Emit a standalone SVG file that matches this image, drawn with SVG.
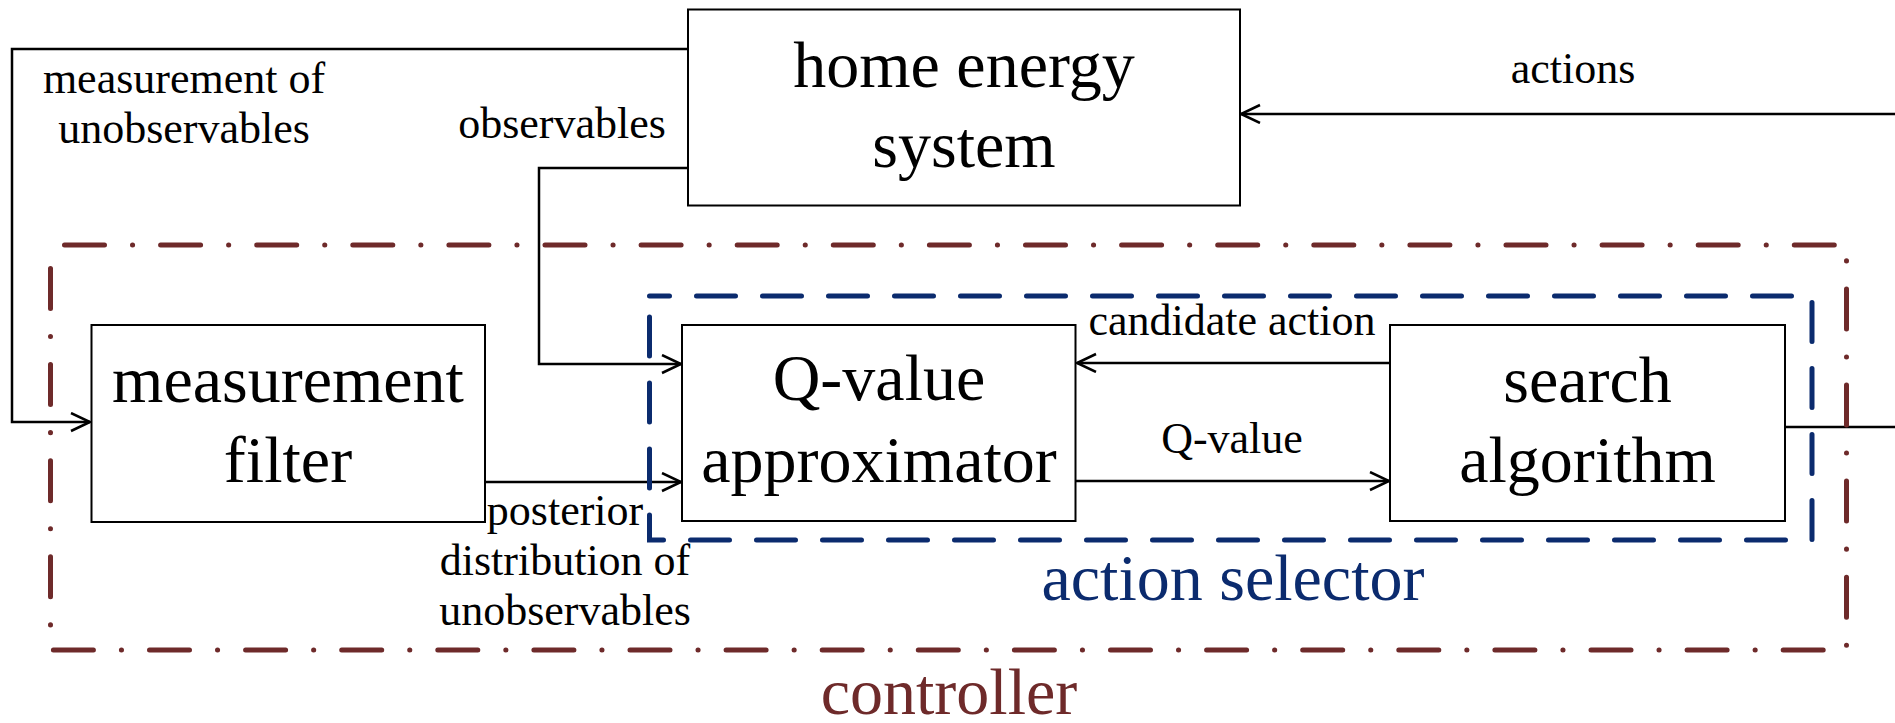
<svg xmlns="http://www.w3.org/2000/svg" width="1895" height="723" viewBox="0 0 1895 723">
<style>
.box{fill:#fff;stroke:#000;stroke-width:2}
.big{font-family:"Liberation Serif","Times New Roman",serif;font-size:66px;fill:#000;text-anchor:middle}
.lbl{font-family:"Liberation Serif","Times New Roman",serif;font-size:44px;fill:#000;text-anchor:middle}
.conn{fill:none;stroke:#000;stroke-width:2.5}
.ctrl{fill:none;stroke:#6e2a2a;stroke-width:5;stroke-linecap:round;stroke-dasharray:40 28 0.1 28}
.sel{fill:none;stroke:#0b2b6e;stroke-width:5;stroke-linecap:round;stroke-dasharray:39 27}
</style>
<defs>
<marker id="arr" markerWidth="24" markerHeight="24" refX="20" refY="10" orient="auto" markerUnits="userSpaceOnUse">
<path d="M1 1 L20 10 L1 19" fill="none" stroke="#000" stroke-width="2.5"/>
</marker>
</defs>
<rect width="1895" height="723" fill="#fff"/>
<g id="connectors">
<path class="conn" d="M688 49 H12 V422 H90" marker-end="url(#arr)"/>
<path class="conn" d="M688 168 H539 V364 H681" marker-end="url(#arr)"/>
<path class="conn" d="M485 482 H681" marker-end="url(#arr)"/>
<path class="conn" d="M1076 481 H1389" marker-end="url(#arr)"/>
<path class="conn" d="M1390 363 H1077" marker-end="url(#arr)"/>
<path class="conn" d="M1785 427 H1895"/>
<path class="conn" d="M1895 114 H1241" marker-end="url(#arr)"/>
<text class="lbl" x="184" y="93">measurement of</text>
<text class="lbl" x="184" y="143">unobservables</text>
<text class="lbl" x="562" y="138">observables</text>
<text class="lbl" x="1573" y="83">actions</text>
<text class="lbl" x="1232" y="335">candidate action</text>
<text class="lbl" x="1232" y="453">Q-value</text>
<text class="lbl" x="565" y="525">posterior</text>
<text class="lbl" x="565" y="575">distribution of</text>
<text class="lbl" x="565" y="625">unobservables</text>
</g>
<g id="home-energy-system">
<rect class="box" x="688" y="9.5" width="552" height="196"/>
<text class="big" x="964" y="87">home energy</text>
<text class="big" x="964" y="167">system</text>
</g>
<g id="measurement-filter">
<rect class="box" x="91.5" y="325" width="393.5" height="197"/>
<text class="big" x="288" y="402">measurement</text>
<text class="big" x="288" y="482">filter</text>
</g>
<g id="q-value-approximator">
<rect class="box" x="682" y="325" width="393.5" height="196"/>
<text class="big" x="879" y="400">Q-value</text>
<text class="big" x="879" y="482">approximator</text>
</g>
<g id="search-algorithm">
<rect class="box" x="1390" y="325" width="395" height="196"/>
<text class="big" x="1587.5" y="402">search</text>
<text class="big" x="1587.5" y="482">algorithm</text>
</g>
<g id="action-selector">
<path class="sel" d="M649.5 296 H1812 V540 H649.5 Z" stroke-dashoffset="19"/>
<text class="big" x="1233" y="600" style="fill:#0b2b6e">action selector</text>
</g>
<g id="controller">
<path class="ctrl" d="M50.5 245 H1846.5 V650 H50.5 Z" stroke-dashoffset="-14"/>
<text class="big" x="949" y="714" style="fill:#6e2a2a">controller</text>
</g>
</svg>
